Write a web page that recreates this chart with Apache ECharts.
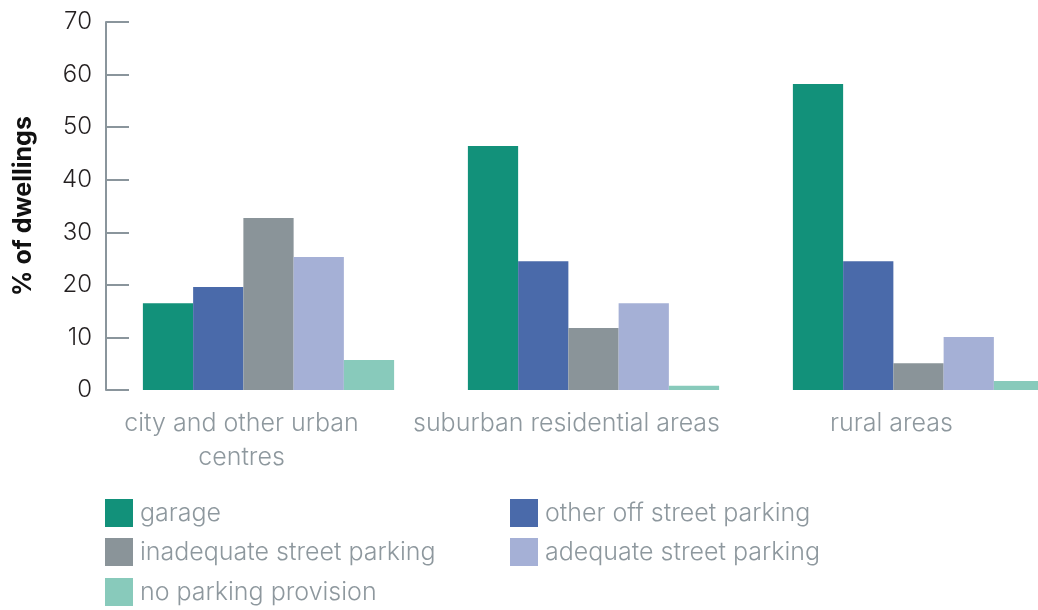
<!DOCTYPE html>
<html>
<head>
<meta charset="utf-8">
<script src="https://cdn.jsdelivr.net/npm/echarts@6/dist/echarts.min.js"></script>
<style>
  html, body { margin: 0; padding: 0; background: #ffffff; }
  #chart { width: 1038px; height: 610px; }
</style>
</head>
<body>
<div id="chart"></div>
<script>
// Area types along the x axis
const areas = ['city and other urban\ncentres', 'suburban residential areas', 'rural areas'];

// Parking provision, % of dwellings per area type
const garage = [16.5, 46.4, 58.2];
const otherOffStreet = [19.6, 24.5, 24.5];
const inadequateStreet = [32.7, 11.8, 5.1];
const adequateStreet = [25.3, 16.5, 10.1];
const noParking = [5.7, 0.8, 1.7];

const seriesNames = ['garage', 'other off street parking', 'inadequate street parking', 'adequate street parking', 'no parking provision'];
const seriesValues = [garage, otherOffStreet, inadequateStreet, adequateStreet, noParking];
const seriesColors = ['#12917a', '#4a6aaa', '#8a9499', '#a5b0d6', '#88cabb'];

const yTicks = { min: 0, max: 70, interval: 10 };

const font = 'Inter, Roboto, "Helvetica Neue", Arial, sans-serif';
const axisGrey = '#8a959c';
const labelGrey = '#8e989e';

// Legend entries in a two-column grid: one legend per entry
const legendSlots = [
  { left: 105, top: 499 },
  { left: 510, top: 499 },
  { left: 105, top: 538 },
  { left: 510, top: 538 },
  { left: 105, top: 578 }
];
const legends = seriesNames.map((name, i) => ({
  data: [name],
  left: legendSlots[i].left,
  top: legendSlots[i].top,
  padding: 0,
  icon: 'rect',
  itemWidth: 28,
  itemHeight: 28,
  textStyle: { color: labelGrey, fontSize: 25, fontFamily: font, fontWeight: 300, padding: [0, 0, 0, 2] }
}));

const chart = echarts.init(document.getElementById('chart'), null, { renderer: 'canvas' });

chart.setOption({
  animation: false,
  grid: { left: 106, top: 22, width: 975, height: 368, containLabel: false, outerBoundsMode: 'none' },
  legend: legends,
  xAxis: {
    type: 'category',
    data: areas,
    axisLine: { show: false },
    axisTick: { show: false },
    axisLabel: {
      color: labelGrey,
      fontSize: 25,
      fontFamily: font,
      fontWeight: 300,
      lineHeight: 34,
      margin: 16,
      padding: [0, 54, 0, 0],
      interval: 0
    }
  },
  yAxis: {
    type: 'value',
    min: yTicks.min,
    max: yTicks.max,
    interval: yTicks.interval,
    name: '% of dwellings',
    nameLocation: 'middle',
    nameGap: 70,
    nameRotate: 90,
    nameTextStyle: { color: '#111111', fontSize: 25, fontWeight: 'bold', fontFamily: font },
    axisLine: { show: true, lineStyle: { color: axisGrey, width: 2 } },
    axisTick: { show: true, inside: true, length: 23, lineStyle: { color: axisGrey, width: 2 } },
    axisLabel: { color: '#231f20', fontSize: 24, fontFamily: font, fontWeight: 300, margin: 14 },
    splitLine: { show: false }
  },
  series: seriesNames.map((name, i) => ({
    name: name,
    type: 'bar',
    data: seriesValues[i],
    barGap: '0%',
    barCategoryGap: '22.7%',
    itemStyle: { color: seriesColors[i] }
  }))
});
</script>
</body>
</html>
